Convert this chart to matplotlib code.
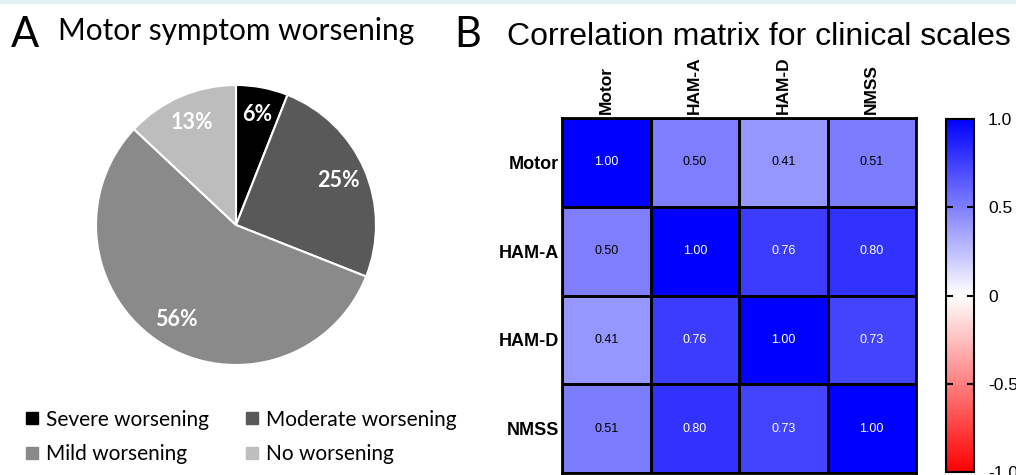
#!/usr/bin/env python3

import numpy as np
import matplotlib.pyplot as plt
from matplotlib.colors import LinearSegmentedColormap
from matplotlib.patches import Rectangle
from matplotlib.lines import Line2D

# panel A data
worsening_labels = ['Severe worsening', 'Moderate worsening', 'Mild worsening', 'No worsening']
worsening_pct = [6, 25, 56, 13]
worsening_colors = ['#000000', '#595959', '#8a8a8a', '#bdbdbd']

# panel B data
scales = ['Motor', 'HAM-A', 'HAM-D', 'NMSS']
corr_motor = [1.00, 0.50, 0.41, 0.51]
corr_hama = [0.50, 1.00, 0.76, 0.80]
corr_hamd = [0.41, 0.76, 1.00, 0.73]
corr_nmss = [0.51, 0.80, 0.73, 1.00]
cbar_ticks = [-1.0, -0.5, 0, 0.5, 1.0]
cbar_labels = ['-1.0', '-0.5', '0', '0.5', '1.0']

W, H = 1016, 475
fig = plt.figure(figsize=(W / 100, H / 100), dpi=100)
fig.patches.append(Rectangle((0, 1 - 3 / H), 1, 3 / H, transform=fig.transFigure,
                             color='#e2f1f1', zorder=0))

left_font = 'Lato'
right_font = 'Liberation Sans'

# --- A: pie ---
pie_ax = fig.add_axes([96 / W, (H - 365) / H, 280 / W, 280 / H])
wedges, texts, autotexts = pie_ax.pie(
    worsening_pct, colors=worsening_colors, startangle=90, counterclock=False,
    autopct='%.0f%%', pctdistance=0.8,
    wedgeprops=dict(edgecolor='white', linewidth=1.5),
    textprops=dict(color='white', fontweight='bold', fontsize=15.5, family=left_font))
pie_ax.set_xlim(-1, 1)
pie_ax.set_ylim(-1, 1)
pie_ax.set_aspect('equal')

# legend is filled column by column, so order it to read row by row
order = [0, 2, 1, 3]
handles = [Line2D([], [], marker='s', linestyle='none', markersize=8,
                  markerfacecolor=worsening_colors[k], markeredgecolor=worsening_colors[k])
           for k in order]
fig.legend(handles, [worsening_labels[k] for k in order], ncol=2, loc='upper left',
           bbox_to_anchor=(3 / W, (H - 391) / H), frameon=False,
           prop=dict(family=left_font, size=15), handletextpad=0.15,
           columnspacing=1.6, labelspacing=0.7, handlelength=1.0)

fig.text(11 / W, (H - 47) / H, 'A', fontsize=30, family=left_font, va='baseline')
fig.text(58 / W, (H - 40) / H, 'Motor symptom worsening', fontsize=21.5,
         family=left_font, va='baseline')

# --- B: correlation matrix ---
corr = np.array([corr_motor, corr_hama, corr_hamd, corr_nmss])
cmap = LinearSegmentedColormap.from_list('rwb', ['#ff0000', '#ffffff', '#0000ff'])

hm_ax = fig.add_axes([562 / W, (H - 473) / H, 354 / W, 355 / H])
mesh = hm_ax.pcolormesh(corr, cmap=cmap, vmin=-1, vmax=1,
                        edgecolors='black', linewidth=0.8)
hm_ax.set_xlim(0, len(scales))
hm_ax.set_ylim(len(scales), 0)
hm_ax.set_xticks(np.arange(len(scales)) + 0.5)
hm_ax.set_yticks(np.arange(len(scales)) + 0.5)
hm_ax.set_xticklabels(scales, rotation=90, fontweight='bold', fontsize=12.5,
                      family=right_font)
hm_ax.set_yticklabels(scales, fontweight='bold', fontsize=13, family=right_font)
hm_ax.xaxis.tick_top()
hm_ax.tick_params(length=0, pad=3)
hm_ax.tick_params(axis='y', pad=2)
for sp in hm_ax.spines.values():
    sp.set_linewidth(2)

for i in range(len(scales)):
    for j in range(len(scales)):
        v = corr[i, j]
        hm_ax.text(j + 0.5, i + 0.5, f'{v:.2f}', ha='center', va='center',
                   fontsize=9, family=right_font,
                   color='white' if v > 0.6 else 'black')

cax = fig.add_axes([946 / W, (H - 472) / H, 28 / W, 353 / H])
cb = fig.colorbar(mesh, cax=cax, ticks=cbar_ticks)
cb.ax.set_yticklabels(cbar_labels, family=right_font, fontsize=12.5)
cb.ax.tick_params(direction='in', left=True, right=True, length=5, width=1.5, pad=10)
cb.outline.set_linewidth(1.5)

fig.text(454 / W, (H - 47) / H, 'B', fontsize=30, family=left_font, va='baseline')
fig.text(507 / W, (H - 45) / H, 'Correlation matrix for clinical scales', fontsize=23,
         family=right_font, va='baseline')

fig.savefig('out.png', dpi=100)
